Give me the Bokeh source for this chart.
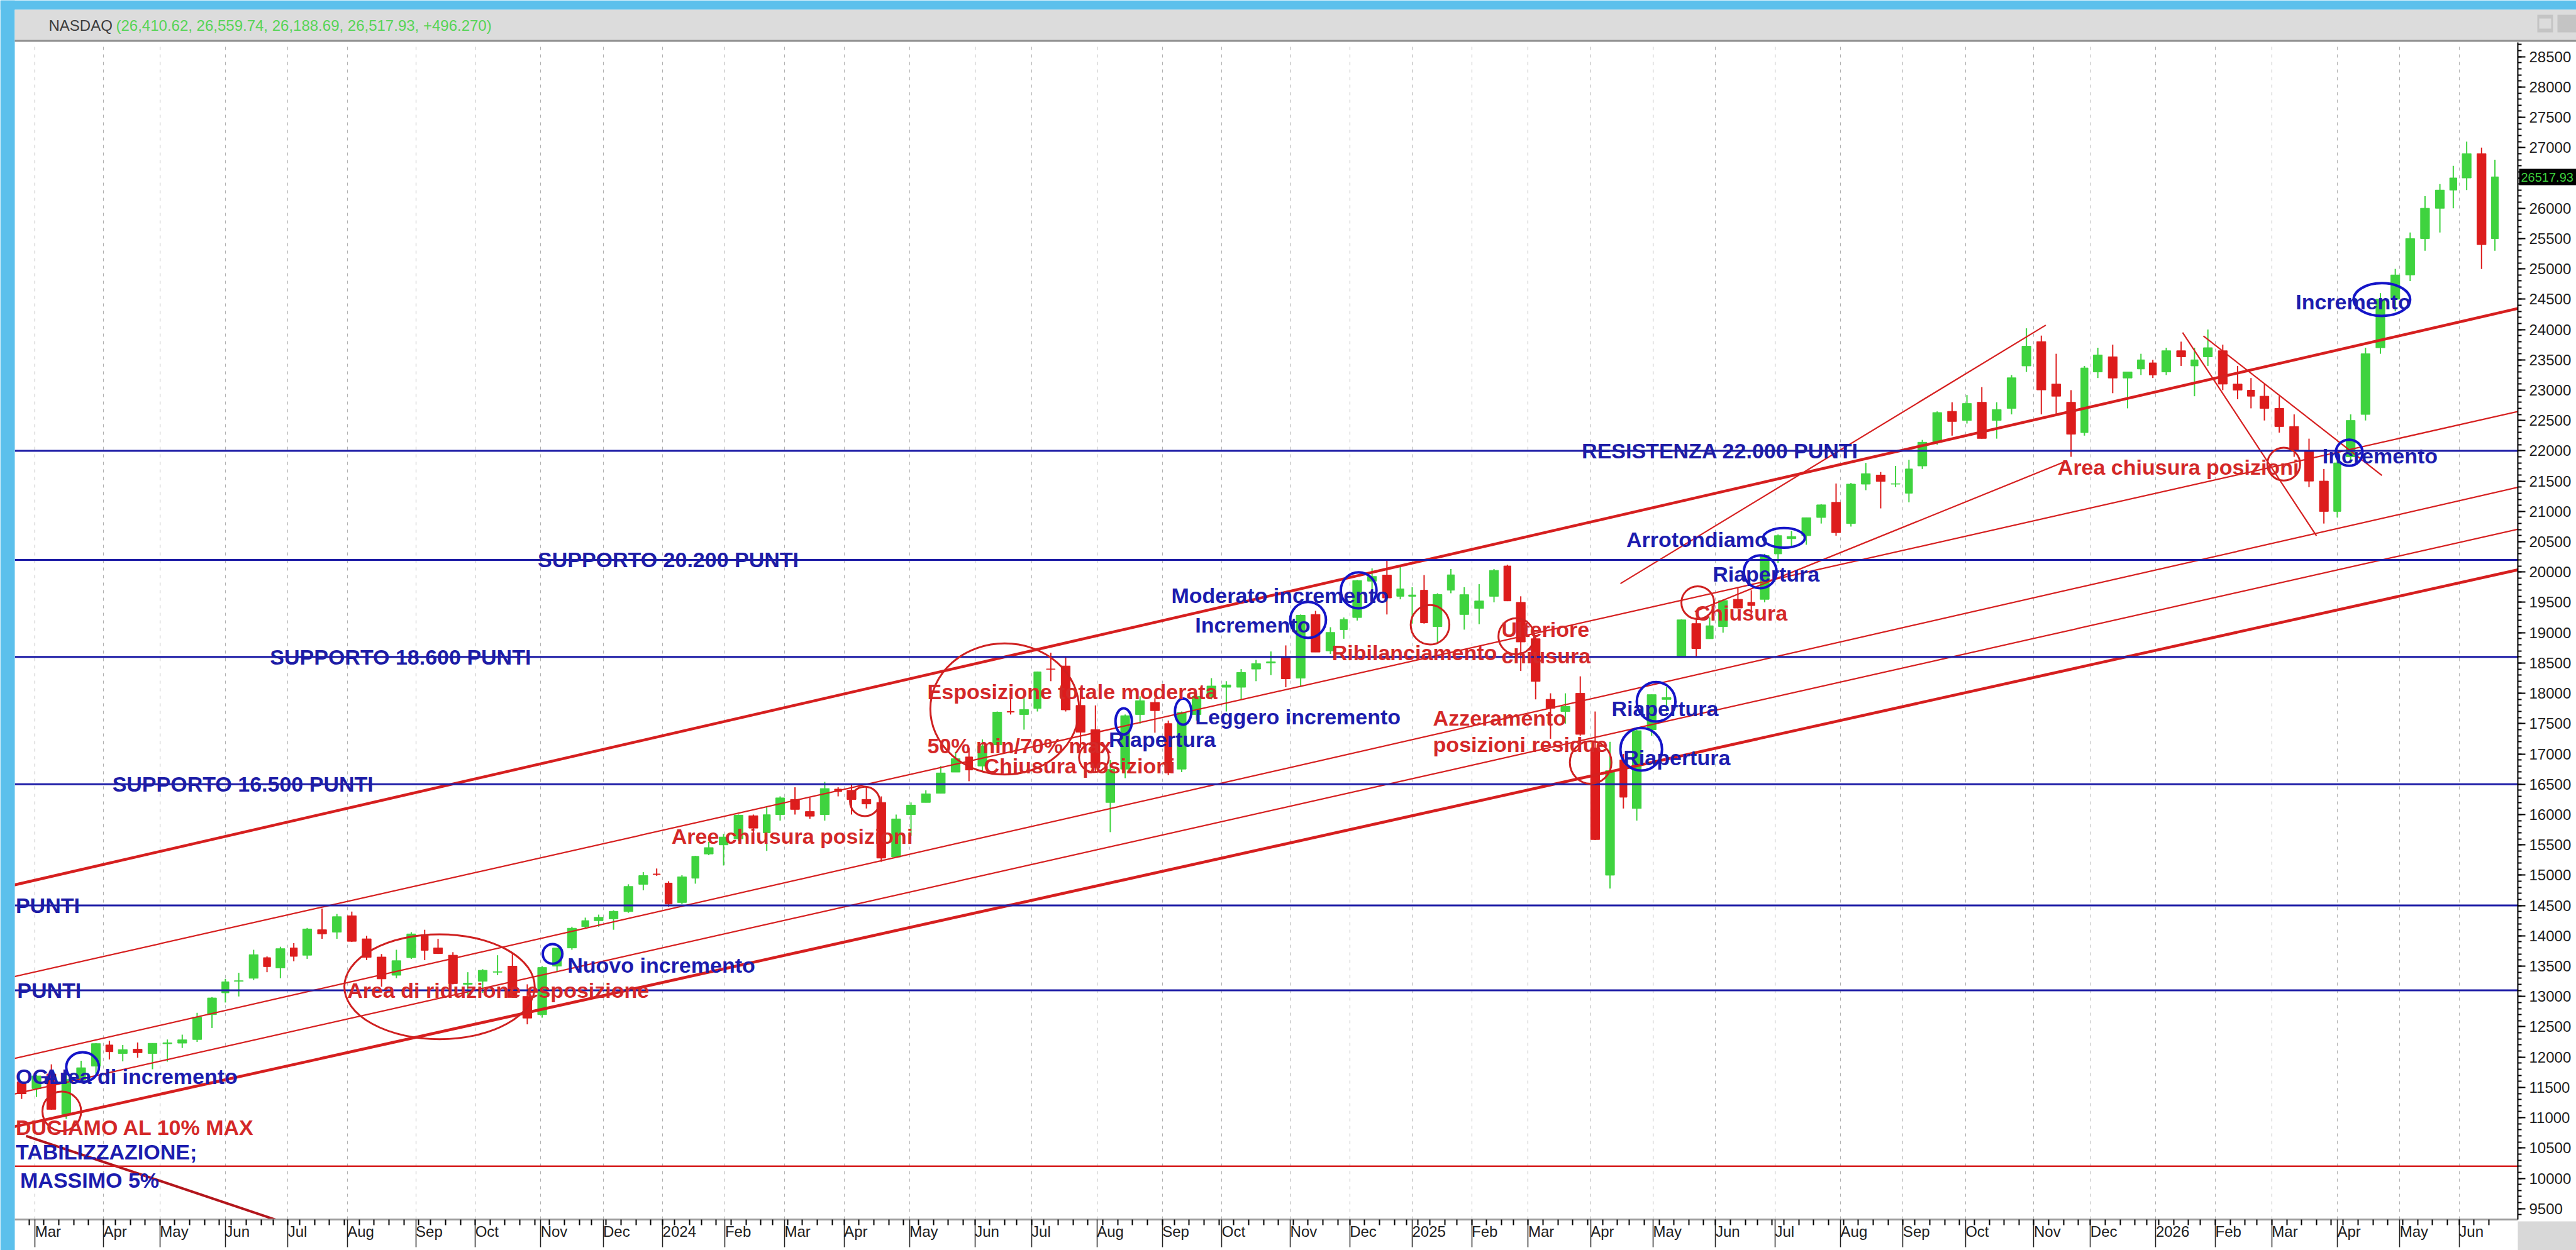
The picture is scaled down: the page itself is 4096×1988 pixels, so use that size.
import numpy as np
from bokeh.plotting import figure
from bokeh.layouts import column
from bokeh.models import (Range1d, FixedTicker, SingleIntervalTicker, ColumnDataSource, GridBox)
from bokeh.core.properties import value
from bokeh.embed import file_html
from bokeh.resources import INLINE

# ---------------------------------------------------------------- data
HOLIDAYS = [
    "2023-01-02", "2023-01-16", "2023-02-20", "2023-04-07", "2023-05-29", "2023-06-19",
    "2023-07-04", "2023-09-04", "2023-11-23", "2023-12-25",
    "2024-01-01", "2024-01-15", "2024-02-19", "2024-03-29", "2024-05-27", "2024-06-19",
    "2024-07-04", "2024-09-02", "2024-11-28", "2024-12-25",
    "2025-01-01", "2025-01-09", "2025-01-20", "2025-02-17", "2025-04-18", "2025-05-26",
    "2025-06-19", "2025-07-04", "2025-09-01", "2025-11-27", "2025-12-25",
    "2026-01-01", "2026-01-19", "2026-02-16", "2026-04-03", "2026-05-25", "2026-06-19",
    "2026-07-03",
]

FIRST_WEEK = "2023-02-20"   # weekly candles, one per week (Monday)
LAST_WEEK = "2026-06-15"

OPEN = [
    11590, 11480, 11720, 11050, 11620, 11850, 12200, 12060, 12130, 12060,
    12220, 12230, 12290, 12700, 13060, 13250, 13300, 13640, 13470, 13800,
    13680, 14100, 14060, 14330, 13950, 13650, 13350, 13640, 14000, 13800,
    13680, 13200, 13250, 13400, 13500, 13000, 12700, 13500, 13800, 14150,
    14250, 14280, 14400, 14850, 15020,
    14870, 14550, 14950, 15350, 15500, 15600, 15980, 15700, 16000, 16250,
    16050, 16000, 16420, 16400, 16250, 16200, 15300, 16000, 16200, 16350,
    16700, 16950, 16800, 17150, 17700, 17650, 17750, 18400, 18450, 17800,
    17400, 16200, 16750, 17650, 17850, 17500, 16750, 17650, 17950, 18100,
    18100, 18400, 18500, 18600, 18250, 19300, 18700, 19050, 19250, 19850,
    19950, 19600, 19600,
    19700, 19100, 19700, 19300, 19400, 19600, 20100, 19500, 18900, 17900,
    17700, 18000, 17100, 15000, 16900, 16100, 17400, 17900, 18600, 19150,
    18900, 19100, 19550, 19500, 19550, 20300, 20550, 20600, 20900, 21150,
    20800, 21450, 21600, 21450, 21300, 21750, 22150, 22650, 22500, 22800,
    22500, 22700, 23400, 23800, 23100, 22800, 22300, 23300, 23550, 23200,
    23350, 23450,
    23300, 23650, 23400, 23550, 23650, 23100, 23000, 22900, 22700, 22400,
    22000, 21500, 21000, 21900, 22600, 23700, 24500, 24900, 25500, 26000,
    26300, 26500, 26900, 25500,
]
HIGH = [
    11600, 11700, 11880, 11720, 11940, 12230, 12270, 12200, 12240, 12230,
    12290, 12370, 12730, 12990, 13290, 13390, 13770, 13660, 13820, 13880,
    14130, 14450, 14360, 14400, 14000, 13700, 13770, 14060, 14100, 13950,
    13730, 13400, 13450, 13680, 13700, 13200, 13500, 13800, 14150, 14300,
    14350, 14420, 14850, 15050, 15110,
    14900, 15000, 15320, 15550, 15680, 16000, 16000, 16130, 16300, 16450,
    16280, 16540, 16450, 16500, 16450, 16300, 16000, 16200, 16400, 16800,
    17030, 17100, 17240, 17700, 17940, 17950, 18360, 18670, 18600, 18080,
    17800, 16900, 17650, 17950, 17920, 17550, 17700, 18000, 18250, 18200,
    18400, 18550, 18690, 18790, 19300, 19360, 19090, 19250, 19870, 20060,
    20200, 20120, 19750,
    19950, 19650, 20050, 19750, 19800, 20050, 20120, 19600, 18950, 18000,
    18000, 18280, 17700, 17200, 17000, 17400, 17980, 18100, 19220, 19250,
    19250, 19550, 19750, 19700, 20300, 20620, 20680, 20900, 21120, 21460,
    21470, 21800, 21650, 21750, 21850, 22180, 22650, 22800, 22920, 23050,
    22800, 23250, 24020, 23900, 23600, 23000, 23400, 23700, 23750, 23300,
    23600, 23500,
    23700, 23800, 23700, 24000, 23750, 23400, 23200, 23100, 22900, 22600,
    22200, 21700, 21900, 22600, 23700, 24600, 25000, 25600, 26200, 26400,
    26700, 27100, 27000, 26800,
]
LOW = [
    11310, 11340, 11130, 10980, 11580, 11700, 11960, 11930, 11990, 11800,
    11925, 12150, 12250, 12480, 12900, 13000, 13270, 13400, 13300, 13580,
    13620, 13950, 13950, 13900, 13600, 13160, 13300, 13620, 13600, 13700,
    13200, 13030, 13060, 13350, 12980, 12540, 12650, 13400, 13770, 14120,
    14150, 14100, 14380, 14750, 14990,
    14480, 14520, 14860, 15330, 15160, 15570, 15640, 15400, 15900, 16000,
    15930, 15900, 16300, 16000, 16100, 15220, 15300, 15650, 16200, 16350,
    16700, 16550, 16700, 17150, 17650, 17400, 17700, 18200, 17700, 17100,
    16700, 15710, 16600, 17500, 17350, 16650, 16700, 17550, 17900, 17700,
    17900, 18200, 18300, 18100, 18100, 18680, 18650, 18900, 19200, 19650,
    19300, 19550, 19150,
    19150, 18830, 19650, 19050, 19140, 19500, 19520, 18370, 17900, 17250,
    17500, 17300, 15580, 14780, 16100, 15900, 17300, 17700, 18600, 18600,
    18900, 19000, 19400, 19300, 19500, 20150, 20400, 20450, 20800, 20600,
    20750, 21350, 21050, 21400, 21150, 21700, 22100, 22250, 22450, 22200,
    22200, 22600, 23300, 22600, 22600, 21900, 22250, 23200, 22950, 22700,
    23250, 23200,
    23250, 23400, 22900, 23400, 23000, 22850, 22700, 22500, 22300, 21900,
    21400, 20800, 20900, 21800, 22500, 23600, 24300, 24800, 25300, 25600,
    26000, 26300, 25000, 25300,
]
CLOSE = [
    11395, 11689, 11138, 11631, 11824, 12222, 12088, 12123, 12072, 12227,
    12235, 12284, 12658, 12975, 13241, 13259, 13689, 13492, 13788, 13661,
    14113, 14032, 14316, 13909, 13644, 13290, 13590, 14031, 13761, 13708,
    13212, 13219, 13431, 13407, 12984, 12643, 13478, 13798, 14125, 14251,
    14305, 14404, 14814, 14993, 15011,
    14524, 14972, 15311, 15455, 15629, 15990, 15776, 15997, 16275, 16085,
    15973, 16429, 16379, 16249, 16175, 15282, 15928, 16156, 16341, 16686,
    16921, 16735, 17133, 17689, 17689, 17733, 18353, 18398, 17727, 17358,
    16776, 16745, 17631, 17878, 17714, 16690, 17684, 17948, 18120, 18138,
    18343, 18490, 18519, 18240, 19287, 18680, 19004, 19218, 19860, 19927,
    19573, 19722, 19622,
    19162, 19630, 19954, 19627, 19523, 20027, 19524, 18847, 18196, 17754,
    17784, 17323, 15588, 16724, 16286, 17383, 17978, 17929, 19211, 18737,
    19114, 19530, 19407, 19447, 20273, 20601, 20586, 20896, 21108, 20650,
    21450, 21623, 21496, 21456, 21700, 22141, 22631, 22484, 22780, 22204,
    22680, 23204, 23725, 23004, 22900, 22273, 23366, 23580, 23200, 23300,
    23500, 23250,
    23650, 23550, 23500, 23700, 23100, 23000, 22900, 22700, 22400, 22000,
    21500, 21000, 21800, 22500, 23600, 24500, 24900, 25500, 26000, 26300,
    26500, 26900, 25400, 26518,
]

TICKER_NAME = "NASDAQ"
TICKER_QUOTE = "(26,410.62, 26,559.74, 26,188.69, 26,517.93, +496.270)"
LAST_PRICE = 26517.93

MONTH_ABBR = ["Jan", "Feb", "Mar", "Apr", "May", "Jun", "Jul", "Aug", "Sep", "Oct", "Nov", "Dec"]

# horizontal support / resistance levels
BLUE_LEVELS = [22000, 20200, 18600, 16500, 14500, 13100]
BLUE_LEVEL_TEXT = ["RESISTENZA 22.000 PUNTI", "SUPPORTO 20.200 PUNTI", "SUPPORTO 18.600 PUNTI",
                   "SUPPORTO 16.500 PUNTI", "PUNTI", "PUNTI"]
BLUE_LEVEL_DATE = ["2025-03-27", "2023-10-31", "2023-06-23", "2023-04-06", "2023-02-17", "2023-02-21"]
RED_LEVEL = 10200

# long rising channel
CHANNEL_START_DATE = "2023-02-17"
CHANNEL_END_DATE = "2026-06-30"
CHANNEL_START = [14838, 13327, 11975, 11389, 10852]
CHANNEL_END = [24350, 22650, 21400, 20710, 20040]
CHANNEL_HEAVY = [True, False, False, False, True]

# shorter trend lines
TREND_D0 = ["2025-04-15", "2025-05-21", "2026-01-15", "2026-01-27"]
TREND_V0 = [19810, 19347, 23950, 23894]
TREND_D1 = ["2025-11-07", "2025-11-17", "2026-03-23", "2026-04-23"]
TREND_V1 = [24072, 21812, 20597, 21593]
# falling line at the bottom left
FALL_D = ["2023-02-24", "2023-06-28"]
FALL_V = [10700, 9300]

# circled zones: centre date, centre value, width (trading days), height (points)
RED_RING_DATE = ["2023-03-14", "2023-09-14", "2024-04-10", "2024-06-17", "2024-07-31",
                 "2025-01-13", "2025-02-25", "2025-04-01", "2025-05-22", "2026-03-06"]
RED_RING_VALUE = [11106, 13160, 16216, 17741, 16941, 19130, 18940, 16860, 19495, 21780]
RED_RING_W = [13, 64, 10, 50, 10, 13, 12, 14, 11, 11]
RED_RING_H = [650, 1730, 486, 2162, 486, 650, 595, 703, 541, 541]

BLUE_RING_DATE = ["2023-03-23", "2023-11-07", "2024-08-14", "2024-09-12", "2024-11-11",
                  "2024-12-05", "2025-05-02", "2025-04-25", "2025-06-24", "2025-07-07",
                  "2026-04-08", "2026-04-23"]
BLUE_RING_VALUE = [11835, 13702, 17536, 17698, 19211, 19698, 17860, 17076, 20004, 20563,
                   21968, 24495]
BLUE_RING_W = [11, 6.6, 5.5, 5.5, 12, 12, 13, 14, 11, 14, 9, 19]
BLUE_RING_H = [487, 324, 432, 432, 595, 595, 650, 703, 541, 324, 432, 540]

# notes
NOTE_TEXT = ["Area di incremento", "Area di riduzione esposizione", "Nuovo incremento",
             "Aree chiusura posizioni", "Esposizione totale moderata", "50% min/70% max",
             "Chiusura posizioni", "Riapertura", "Leggero incremento", "Moderato incremento",
             "Incremento", "Ribilanciamento", "Ulteriore", "chiusura", "Azzeramento",
             "posizioni residue", "Riapertura", "Riapertura", "Chiusura", "Riapertura",
             "Arrotondiamo", "Area chiusura posizioni", "Incremento", "Incremento",
             "MASSIMO 5%", "OGLI", "DUCIAMO AL 10% MAX", "TABILIZZAZIONE;"]
NOTE_DATE = ["2023-03-06", "2023-08-01", "2023-11-14", "2024-01-05", "2024-05-09",
             "2024-05-09", "2024-06-06", "2024-08-07", "2024-09-18", "2024-09-06",
             "2024-09-18", "2024-11-21", "2025-02-18", "2025-02-18", "2025-01-14",
             "2025-01-14", "2025-04-10", "2025-04-16", "2025-05-21", "2025-05-30",
             "2025-04-17", "2025-11-13", "2026-03-25", "2026-03-12", "2023-02-22",
             "2023-02-17", "2023-02-17", "2023-02-17"]
NOTE_VALUE = [11677, 13106, 13512, 15644, 18023, 17131, 16807, 17239, 17617, 19617,
              19130, 18670, 19049, 18617, 17590, 17157, 17752, 16941, 19320, 19969,
              20536, 21725, 21914, 24455, 9967, 11677, 10842, 10434]
NOTE_RED = [False, True, False, True, True, True, True, False, False, False,
            False, True, True, True, True, True, False, False, True, False,
            False, True, False, False, False, False, True, False]

# ---------------------------------------------------------------- layout constants
W, H = 4096, 1988
FL, FR, FT, FB = 23, 4003, 67, 1942
BLUE_BG = "#5cc0ec"
RED = "#d61f1f"
NAVY = "#1d1ca6"
UP = "#3fd33f"
DOWN = "#dd1c1c"
FONT = "Liberation Sans"

HOL = np.array(HOLIDAYS, dtype="datetime64[D]")
ORIGIN = np.datetime64("2023-03-01", "D")


def tidx(d):
    return float(np.busday_count(ORIGIN, np.datetime64(d, "D"), holidays=HOL))


x0 = -6.8
x1 = tidx("2026-06-01") + 19.7
y0, y1 = 9321, 28735
pxday = (FR - FL) / (x1 - x0)
kpx = (FB - FT) / (y1 - y0)

# candles
weeks = np.arange(np.datetime64(FIRST_WEEK, "D"), np.datetime64(LAST_WEEK, "D") + 1, 7)
ws = np.array([tidx(w) for w in weeks])
we = np.array([tidx(w + 7) for w in weeks])
o, h, l, c = (np.array(a, dtype=float) for a in (OPEN, HIGH, LOW, CLOSE))
up = c >= o
cs = ColumnDataSource(dict(
    x=(ws + we) / 2, w=(we - ws) * 0.6,
    top=np.maximum(o, c), bottom=np.minimum(o, c), high=h, low=l,
    color=[UP if u else DOWN for u in up],
))

# month ticks
months = np.arange(np.datetime64("2023-03"), np.datetime64("2026-07"), dtype="datetime64[M]")
m_idx = [tidx(m.astype("datetime64[D]")) for m in months]
m_lab = [str(m)[:4] if int(str(m)[5:7]) == 1 else MONTH_ABBR[int(str(m)[5:7]) - 1] for m in months]
week_ticks = [float(v) for v in ws]

# ---------------------------------------------------------------- main figure
p = figure(width=W, height=H, output_backend="svg", toolbar_location=None,
           x_range=Range1d(x0, x1), y_range=Range1d(y0, y1),
           y_axis_location="right", min_border_left=FL, min_border_right=W - FR,
           min_border_top=FT, min_border_bottom=H - FB,
           background_fill_color="white", border_fill_color="white")
p.outline_line_color = None
p.ygrid.visible = False
p.xgrid.ticker = FixedTicker(ticks=m_idx)
p.xgrid.grid_line_color = "#b0b0b0"
p.xgrid.grid_line_dash = "5 7"
p.xgrid.grid_line_width = 1

ya = p.yaxis[0]
ya.ticker = SingleIntervalTicker(interval=500, num_minor_ticks=5)
ya.axis_line_color = "black"
ya.axis_line_width = 2
ya.major_tick_out = 12
ya.major_tick_in = 0
ya.minor_tick_out = 6
ya.minor_tick_in = 0
ya.major_tick_line_width = 2
ya.minor_tick_line_width = 2
ya.major_tick_line_color = "black"
ya.minor_tick_line_color = "black"
ya.major_label_standoff = 6
ya.major_label_text_font = FONT
ya.major_label_text_font_size = "24px"
ya.major_label_text_color = "#1e1e1e"

# date band: long month separators, weekly small ticks, labels to the right of each separator
xa = p.xaxis[0]
xa.ticker = FixedTicker(ticks=m_idx, minor_ticks=week_ticks)
xa.major_label_overrides = {m: lab for m, lab in zip(m_idx, m_lab)}
xa.axis_line_color = "#9c9c9c"
xa.axis_line_width = 3
xa.major_tick_out = 44
xa.major_tick_in = 0
xa.major_tick_line_color = "#202020"
xa.major_tick_line_width = 1.5
xa.minor_tick_out = 9
xa.minor_tick_in = 0
xa.minor_tick_line_color = "black"
xa.minor_tick_line_width = 2
xa.major_label_orientation = -0.0001
xa.major_label_standoff = -25
xa.major_label_text_font = FONT
xa.major_label_text_font_size = "24px"
xa.major_label_text_color = "#202020"

# candles
p.segment(x0="x", y0="low", x1="x", y1="high", source=cs, line_color="color", line_width=2)
p.vbar(x="x", width="w", top="top", bottom="bottom", source=cs,
       fill_color="color", line_color="color", line_width=1)

# channel lines
for v0, v1, heavy in zip(CHANNEL_START, CHANNEL_END, CHANNEL_HEAVY):
    p.segment(x0=[tidx(CHANNEL_START_DATE)], y0=[v0], x1=[tidx(CHANNEL_END_DATE)], y1=[v1],
              line_color=RED, line_width=4.5 if heavy else 2.2)
p.segment(x0=[tidx(d) for d in TREND_D0], y0=TREND_V0,
          x1=[tidx(d) for d in TREND_D1], y1=TREND_V1, line_color=RED, line_width=2.2)
p.line(x=[tidx(d) for d in FALL_D], y=FALL_V, line_color="#b3161c", line_width=4)

# horizontal levels
p.segment(x0=[x0] * len(BLUE_LEVELS), y0=BLUE_LEVELS, x1=[x1] * len(BLUE_LEVELS), y1=BLUE_LEVELS,
          line_color=NAVY, line_width=3)
p.segment(x0=[x0], y0=[RED_LEVEL], x1=[x1], y1=[RED_LEVEL], line_color=RED, line_width=2.5)

# rings
p.ellipse(x=[tidx(d) for d in RED_RING_DATE], y=RED_RING_VALUE, width=RED_RING_W, height=RED_RING_H,
          fill_color=None, line_color="#cf2020", line_width=3)
p.ellipse(x=[tidx(d) for d in BLUE_RING_DATE], y=BLUE_RING_VALUE, width=BLUE_RING_W, height=BLUE_RING_H,
          fill_color=None, line_color="#1414c8", line_width=4)

# texts
TXT = dict(text_font=value(FONT), text_font_style="bold", text_font_size="34px")
lvl_x = [max(tidx(d), x0 + 0.3) for d in BLUE_LEVEL_DATE]
p.text(x=lvl_x, y=BLUE_LEVELS, text=BLUE_LEVEL_TEXT, text_color=NAVY,
       text_align="left", text_baseline="alphabetic", **TXT)
note_x = [max(tidx(d), x0 + 0.3) for d in NOTE_DATE]
p.text(x=note_x, y=NOTE_VALUE, text=NOTE_TEXT,
       text_color=["#d42828" if r else "#1c1cae" for r in NOTE_RED],
       text_align="left", text_baseline="middle", **TXT)

# ---------------------------------------------------------------- overlay with the window chrome
xs, xe = x0 - FL / pxday, x1 + (W - FR) / pxday
ys, ye = y0 - (H - FB) / kpx, y1 + FT / kpx
ov = figure(width=W, height=H, output_backend="svg", toolbar_location=None,
            x_range=Range1d(0, W), y_range=Range1d(H, 0),
            x_axis_location=None, y_axis_location=None,
            min_border_left=0, min_border_right=0, min_border_top=0, min_border_bottom=0,
            background_fill_color=None, border_fill_color=None, outline_line_color=None)
ov.grid.visible = False
ov.extra_x_ranges = {"dx": Range1d(xs, xe)}
ov.extra_y_ranges = {"dy": Range1d(ys, ye)}

CH_L = [0, 0, FL, FL, FR, 4034, 4037, 4066]
CH_R = [FL, W, W, W, W, 4059, 4056, W]
CH_T = [0, 0, 15, 63, FB, 23, 29, 23]
CH_B = [H, 15, 64, 66, H, 51, 45, 51]
CH_C = [BLUE_BG, BLUE_BG, "#dcdcdc", "#8e8e8e", "#d8d8d8", "#c4c4c4", "#dcdcdc", "#c4c4c4"]
ov.quad(left=CH_L, right=CH_R, top=CH_T, bottom=CH_B, fill_color=CH_C, line_color=None)

ov.text(x=[77], y=[40], text=[TICKER_NAME], text_font=value(FONT), text_font_size="24px",
        text_color="#3c3c3c", text_baseline="middle", text_align="left")
ov.text(x=[184], y=[40], text=[TICKER_QUOTE], text_font=value(FONT), text_font_size="24px",
        text_color="#56d456", text_baseline="middle", text_align="left")

# last-price box on the price scale
ov.rect(x=[(FR + 2 + W) / 2], y=[LAST_PRICE], width=[W - FR - 2], height=[26], height_units="screen",
        y_range_name="dy", fill_color="black", line_color=None)
ov.text(x=[FR + 5], y=[LAST_PRICE], text=["26517.93"], y_range_name="dy",
        text_font=value(FONT), text_font_size="20px", text_color="#3ccf3c",
        text_baseline="middle", text_align="left")

wrap = column(ov, width=W, height=H)
layout = GridBox(children=[(p, 0, 0), (wrap, 0, 0)])
open("out.html", "w").write(file_html(layout, INLINE))
